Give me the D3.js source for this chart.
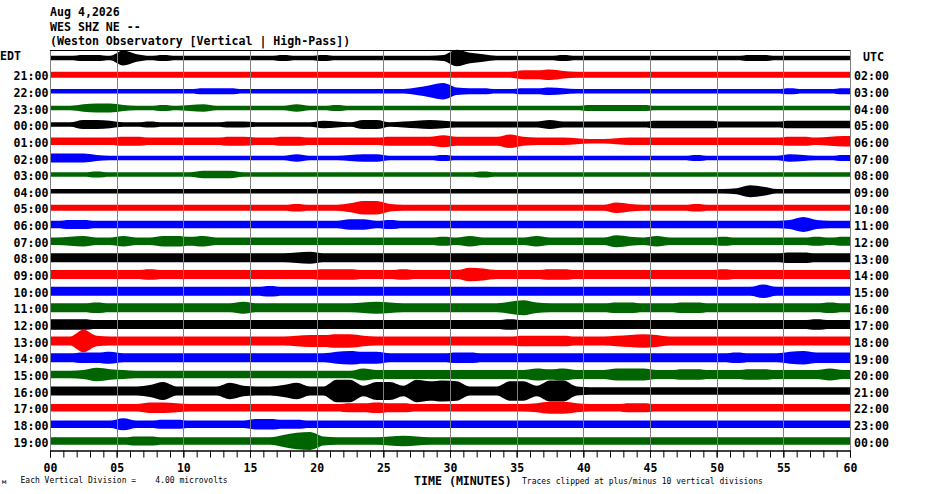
<!DOCTYPE html>
<html lang="en">
<head>
    <meta charset="UTF-8">
    <title>WES SHZ NE helicorder</title>
    <script src="https://d3js.org/d3.v7.min.js"></script>
    <style>
        body{
            margin: 0;
            background: white;
        }
        svg{
            display: block;
        }
        .lbl{
            font-family: "DejaVu Sans Mono", "Liberation Mono", monospace;
            font-weight: bold;
            font-size: 11.6px;
            fill: black;
        }
        .small{
            font-family: "DejaVu Sans Mono", "Liberation Mono", monospace;
            font-size: 8px;
            fill: black;
        }
    </style>
</head>
<body>
<svg width="930" height="494"></svg>
<script>

    // header lines
    let titleLines = ["Aug 4,2026", "WES SHZ NE --", "(Weston Observatory [Vertical | High-Pass])"]

    // row labels, one per trace (first row is 20:00 EDT / 01:00 UTC)
    let edtLabels = ["EDT","21:00","22:00","23:00","00:00","01:00","02:00","03:00","04:00","05:00","06:00","07:00",
        "08:00","09:00","10:00","11:00","12:00","13:00","14:00","15:00","16:00","17:00","18:00","19:00"]
    let utcLabels = ["UTC","02:00","03:00","04:00","05:00","06:00","07:00","08:00","09:00","10:00","11:00","12:00",
        "13:00","14:00","15:00","16:00","17:00","18:00","19:00","20:00","21:00","22:00","23:00","00:00"]

    // x axis
    let tickMinutes = [0,5,10,15,20,25,30,35,40,45,50,55,60]
    let tickLabels = ["00","05","10","15","20","25","30","35","40","45","50","55","60"]

    // amplitude envelope per minute (hex digit 0-f), one string of 60 per hour trace
    let traceAmps = [
        "33443a5343" + "3333333433" + "4333333334" + "b753333343" + "3333333333" + "3344333333",
        "4444444444" + "4444444444" + "4444444444" + "4444466754" + "4444444444" + "4444444444",
        "3333333333" + "3444333333" + "333333358b" + "5443344543" + "3333333333" + "3333343334",
        "3356643343" + "4533333353" + "3433333333" + "3333333333" + "4444433333" + "3333333333",
        "3366533433" + "3334433333" + "5436634565" + "4444444644" + "4444455555" + "4444455555",
        "5555566555" + "5556655665" + "5555566668" + "6666965554" + "3345555555" + "5555566567",
        "6664333333" + "3333333353" + "3345533334" + "3333333333" + "3333333343" + "3333354334",
        "3334333333" + "3555333333" + "3333333333" + "3343333333" + "3333333333" + "3333333333",
        "3333333333" + "3333333333" + "3333333333" + "3333333333" + "3333333333" + "3486333333",
        "4444444444" + "4444444454" + "4469954444" + "4444444444" + "4475444454" + "4444444444",
        "5665555555" + "5555555555" + "5577565555" + "5555555555" + "5555555555" + "555556a655",
        "5675575577" + "6755555555" + "5555555556" + "5755557555" + "5586575555" + "6555555656",
        "6666666666" + "6666666678" + "6666666666" + "6666666666" + "6666666666" + "6666677666",
        "6666666766" + "6666666666" + "7776667666" + "6986666776" + "6666666666" + "7666666666",
        "6666666666" + "6666667666" + "6666666666" + "6666666666" + "6666666666" + "6669666666",
        "6667666666" + "6666866666" + "6667876666" + "66668a7666" + "6677666776" + "6666666676",
        "7776666666" + "6666666666" + "6666666666" + "6666766666" + "6666666666" + "6666666766",
        "66f7666666" + "6666666678" + "8997666666" + "6666677776" + "6678986666" + "6666666666",
        "6677866666" + "6666666666" + "6898866666" + "7766666666" + "6666666666" + "6766689777",
        "5569765555" + "5555555555" + "5558666666" + "6666668786" + "6688866776" + "6677666686",
        "66666668c6" + "666b7668b6" + "6ff7cc7fde" + "d666dd7ee6" + "5555555555" + "5555555555",
        "5555555776" + "5555555555" + "5566766555" + "5555556886" + "5556655555" + "5555555555",
        "5555585566" + "5555577665" + "5555555555" + "5555555555" + "5555555555" + "5555555555",
        "5555556655" + "55555558bc" + "6555567655" + "5555555555" + "5555555555" + "5555555555"
    ]

    let colors = ["black", "red", "blue", "#006400"]

    let svg = d3.select('svg')
    let margins = {left:50, right:80, top:50, bottom:44}
    let W = 930, H = 494

    // scales
    let xScale = d3.scaleLinear().domain([0, 60]).range([margins.left, W - margins.right])
    let rowScale = d3.scalePoint().domain(d3.range(traceAmps.length)).range([58, 441])
    let ampScale = d3.scaleLinear().domain([0, 15]).range([0, 11.25])

    // traces
    let area = d3.area()
        .x(d => xScale(d.m))
        .y0(d => d.y - ampScale(d.a))
        .y1(d => d.y + ampScale(d.a))
        .curve(d3.curveMonotoneX)

    let rows = traceAmps.map(function(s, i){
        let y = rowScale(i)
        let vals = s.split('').map(c => parseInt(c, 16))
        let pts = vals.map((a, m) => ({m: m + 0.5, a: a, y: y}))
        pts.unshift({m: 0, a: vals[0], y: y})
        pts.push({m: 60, a: vals[vals.length - 1], y: y})
        return pts
    })

    svg.append('g').selectAll('path')
        .data(rows)
        .enter().append('path')
        .attr('d', area)
        .attr('fill', (d, i) => colors[i % 4])

    // grid lines on top of traces
    svg.append('g').selectAll('line')
        .data(tickMinutes)
        .enter().append('line')
        .attr('x1', d => Math.round(xScale(d)) + 0.5)
        .attr('x2', d => Math.round(xScale(d)) + 0.5)
        .attr('y1', margins.top)
        .attr('y2', 450)
        .attr('stroke', '#808080')
        .attr('stroke-width', 1)

    svg.append('line')
        .attr('x1', xScale(0)).attr('x2', xScale(60))
        .attr('y1', 50.5).attr('y2', 50.5)
        .attr('stroke', 'black')

    // bottom axis: minute ticks + labels every 5
    let minor = svg.append('g')
        .attr('transform', 'translate(0,450.5)')
        .call(d3.axisBottom(xScale).tickValues(d3.range(0, 61)).tickSize(7).tickSizeOuter(0).tickFormat(''))
    minor.select('.domain').attr('stroke-width', 1.5)

    let major = svg.append('g')
        .attr('transform', 'translate(0,450.5)')
        .call(d3.axisBottom(xScale).tickValues(tickMinutes).tickSize(7).tickSizeOuter(0).tickPadding(6)
            .tickFormat((d, i) => tickLabels[i]))
    major.select('.domain').remove()
    major.selectAll('text').attr('class', 'lbl').style('font-size', '11.5px')

    // header
    svg.selectAll('.title')
        .data(titleLines)
        .enter().append('text')
        .attr('class', 'lbl')
        .attr('x', 50)
        .attr('y', (d, i) => 16 + i * 14.6)
        .text(d => d)

    // left / right row labels
    svg.append('g').selectAll('text')
        .data(edtLabels)
        .enter().append('text')
        .attr('class', 'lbl')
        .attr('x', (d, i) => i == 0 ? 0 : 48.5)
        .attr('text-anchor', (d, i) => i == 0 ? 'start' : 'end')
        .attr('y', (d, i) => i == 0 ? 60 : rowScale(i) + 5.6)
        .text(d => d)

    svg.append('g').selectAll('text')
        .data(utcLabels)
        .enter().append('text')
        .attr('class', 'lbl')
        .attr('x', (d, i) => i == 0 ? 863 : 854)
        .attr('y', (d, i) => i == 0 ? 60.5 : rowScale(i) + 5.8)
        .text(d => d)

    // footer
    svg.append('text').attr('class', 'small').attr('x', 2).attr('y', 484).style('font-size', '7px').text('\u043c')
    svg.append('text').attr('class', 'small').attr('x', 20.5).attr('y', 483)
        .attr('xml:space', 'preserve').style('white-space', 'pre')
        .text('Each Vertical Division =    4.00 microvolts')
    svg.append('text').attr('class', 'lbl').attr('x', 414).attr('y', 485).text('TIME (MINUTES)')
    svg.append('text').attr('class', 'small').attr('x', 522).attr('y', 484)
        .text('Traces clipped at plus/minus 10 vertical divisions')

</script>
</body>
</html>
